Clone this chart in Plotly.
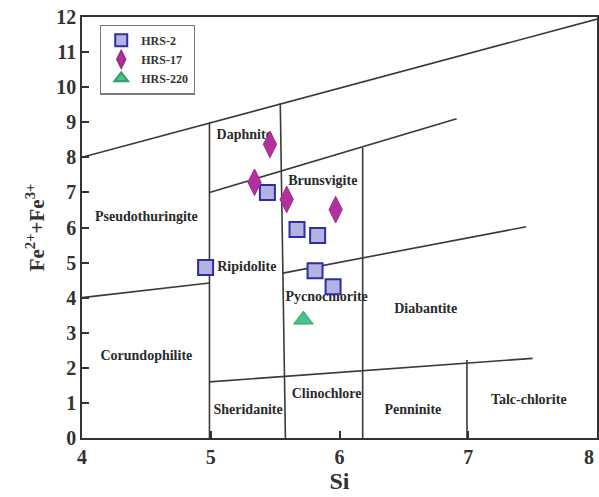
import plotly.graph_objects as go

# Sample analyses (Si vs Fe2+ + Fe3+, a.p.f.u.)
hrs2_si = [4.96, 5.44, 5.67, 5.83, 5.81, 5.95]
hrs2_fe = [4.86, 7.00, 5.94, 5.77, 4.77, 4.31]
hrs17_si = [5.46, 5.34, 5.59, 5.97]
hrs17_fe = [8.37, 7.29, 6.80, 6.51]
hrs220_si = [5.72]
hrs220_fe = [3.37]

# Field boundaries of the classification diagram (pairs of end points)
boundary_si = [
    [4.0, 8.0],
    [4.99, 4.99],
    [5.58, 5.54],
    [6.18, 6.18],
    [6.99, 6.99],
    [4.99, 6.91],
    [4.0, 4.99],
    [5.56, 7.45],
    [4.99, 7.5],
]
boundary_fe = [
    [8.0, 11.94],
    [0.0, 9.0],
    [0.0, 9.54],
    [0.0, 8.27],
    [0.0, 2.22],
    [7.0, 9.1],
    [4.0, 4.42],
    [4.7, 6.02],
    [1.6, 2.27],
]

# Field names and where they are written
field_names = ["Daphnite", "Brunsvigite", "Pseudothuringite", "Ripidolite",
               "Pycnochlorite", "Diabantite", "Corundophilite", "Clinochlore",
               "Sheridanite", "Penninite", "Talc-chlorite"]
field_si = [5.26, 5.87, 4.50, 5.28, 5.90, 6.67, 4.50, 5.90, 5.29, 6.57, 7.47]
field_fe = [8.62, 7.30, 6.29, 4.86, 4.00, 3.66, 2.31, 1.23, 0.77, 0.77, 1.06]

x_ticks = [4, 5, 6, 7, 8]
x_labels = ["4", "5", "6", "7", "8"]
y_ticks = list(range(0, 13))

SERIF = "Liberation Serif"
INK = "#333333"
TICK_FONT = dict(family=SERIF, size=20, color=INK, weight="bold")

fig = go.Figure()

for bx, by in zip(boundary_si, boundary_fe):
    fig.add_trace(go.Scatter(
        x=bx, y=by, mode="lines",
        line=dict(color="#3a3a3a", width=1.6),
        showlegend=False, hoverinfo="skip",
    ))

fig.add_trace(go.Scatter(
    x=field_si, y=field_fe, mode="text", text=field_names,
    textfont=dict(family=SERIF, size=14, color="#2a2a2a", weight="bold"),
    textposition="middle center",
    showlegend=False, hoverinfo="skip",
))

fig.add_trace(go.Scatter(
    x=hrs2_si, y=hrs2_fe, mode="markers", name="HRS-2",
    marker=dict(symbol="square", size=15, color="#b3b3e3",
                line=dict(color="#2e2ea0", width=2)),
))
fig.add_trace(go.Scatter(
    x=hrs17_si, y=hrs17_fe, mode="markers", name="HRS-17",
    marker=dict(symbol="diamond-tall", size=19, color="#b2319d",
                line=dict(color="#a02a8c", width=1)),
))
fig.add_trace(go.Scatter(
    x=hrs220_si, y=hrs220_fe, mode="markers", name="HRS-220",
    marker=dict(symbol="triangle-up", size=17, color="#4cc28c",
                line=dict(color="#2f9e68", width=1)),
))

axis_common = dict(
    showline=True, mirror=True, linecolor=INK, linewidth=1.6,
    ticks="inside", ticklen=7, tickwidth=1.6, tickcolor=INK,
    showgrid=False, zeroline=False, automargin=False,
    tickfont=TICK_FONT,
)

# The last x label sits flush with the right frame edge, so it is written
# as an annotation anchored at its tick instead of a centred tick label.
fig.add_annotation(
    x=x_ticks[-1], y=0, xref="x", yref="paper",
    text=x_labels[-1], showarrow=False,
    xanchor="right", yanchor="top", yshift=-6, xshift=-1,
    font=TICK_FONT,
)

fig.update_layout(
    width=599, height=497,
    margin=dict(l=82, r=2, t=17, b=59),
    paper_bgcolor="white", plot_bgcolor="white",
    font=dict(family=SERIF, color=INK),
    xaxis=dict(
        range=[4, 8], tickvals=x_ticks[:-1], ticktext=x_labels[:-1],
        title=dict(text="Si", font=dict(family=SERIF, size=24, color=INK, weight="bold"),
                   standoff=4),
        **axis_common,
    ),
    yaxis=dict(
        range=[0, 12], tickvals=y_ticks,
        title=dict(text="Fe<sup>2+</sup>+Fe<sup>3+</sup>",
                   font=dict(family=SERIF, size=21, color=INK, weight="bold"), standoff=6),
        **axis_common,
    ),
    legend=dict(
        x=0.035, y=0.982, xanchor="left", yanchor="top",
        bgcolor="white", bordercolor="#777777", borderwidth=1.2,
        font=dict(family=SERIF, size=12, color="#333333", weight="bold"),
        itemsizing="constant", tracegroupgap=0, itemwidth=30,
    ),
    showlegend=True,
)

fig.write_html("out.html")
